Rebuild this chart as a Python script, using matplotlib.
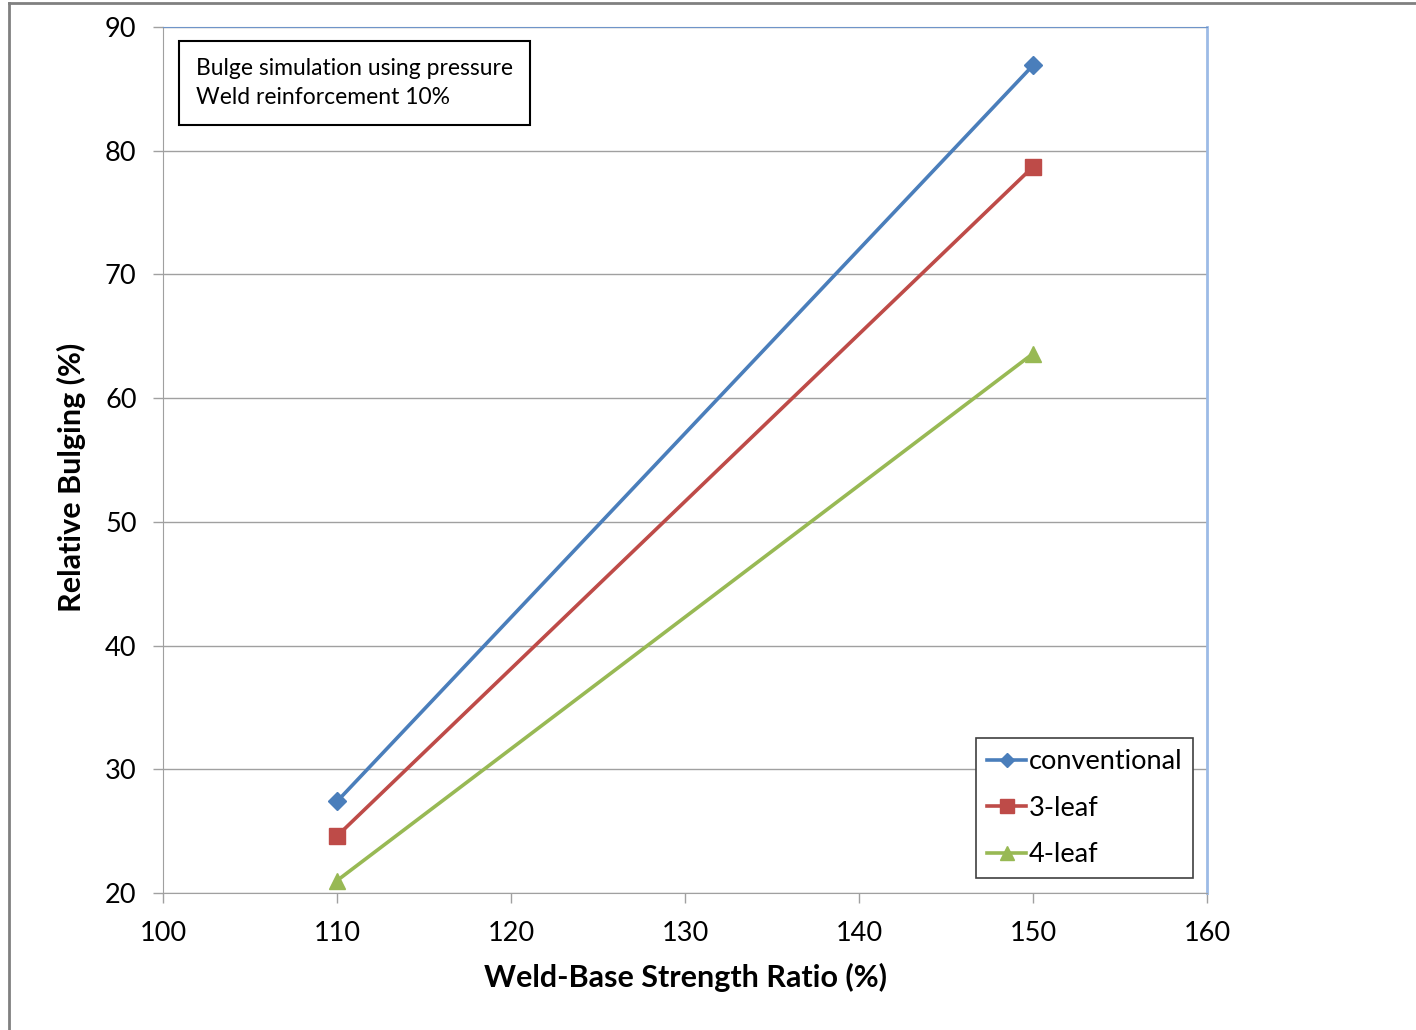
import matplotlib
matplotlib.use("Agg")
import matplotlib.pyplot as plt
from matplotlib.lines import Line2D

plt.rcParams['font.family'] = ['Lato', 'DejaVu Sans']

x_values = [110, 150]
series_names = ["conventional", "3-leaf", "4-leaf"]
conventional = [27.4, 86.9]
three_leaf = [24.6, 78.7]
four_leaf = [21.0, 63.6]
x_ticks = [100, 110, 120, 130, 140, 150, 160]
y_ticks = [20, 30, 40, 50, 60, 70, 80, 90]

W, H = 1416, 1030
fig = plt.figure(figsize=(W / 100, H / 100), dpi=100)
ax = fig.add_axes([163 / W, 1 - 893 / H, (1207 - 163) / W, (893 - 27) / H])

colors = ["#4a7ebb", "#be4b48", "#98b954"]
markers = ["D", "s", "^"]
msizes = [9, 12, 12]
for name, vals, c, m, ms in zip(series_names, [conventional, three_leaf, four_leaf], colors, markers, msizes):
    ax.plot(x_values, vals, color=c, lw=2.6, marker=m, markersize=ms,
            markeredgecolor=c, label=name, zorder=3)

ax.set_xlim(100, 160)
ax.set_ylim(20, 90)
ax.set_xticks(x_ticks)
ax.set_yticks(y_ticks)
ax.grid(axis='y', color='#a0a0a0', lw=1)
ax.set_axisbelow(True)
ax.tick_params(axis='both', labelsize=19.5, length=7, width=1, color='#a0a0a0')
ax.tick_params(axis='x', pad=13)
ax.tick_params(axis='y', pad=12)
for s in ['left', 'bottom']:
    ax.spines[s].set_color('#a0a0a0')
ax.spines['top'].set_color('#6f94c8')
ax.spines['right'].set_color('#9dbbe6')
ax.spines['right'].set_linewidth(2)

ax.set_xlabel("Weld-Base Strength Ratio (%)", fontsize=22, fontweight='bold', labelpad=12)
ax.set_ylabel("Relative Bulging (%)", fontsize=22, fontweight='bold', labelpad=14, y=0.48)

ax.text(0.0315, 0.964, "Bulge simulation using pressure\nWeld reinforcement 10%",
        transform=ax.transAxes, fontsize=16.5, va='top', ha='left', linespacing=1.45,
        bbox=dict(boxstyle='square,pad=0.75', fc='white', ec='black', lw=1.5))

leg = ax.legend(loc='lower right', bbox_to_anchor=(0.987, 0.017), fontsize=19.5,
                frameon=True, fancybox=False, edgecolor='#404040', framealpha=1,
                handlelength=1.45, handletextpad=0.1, labelspacing=0.8,
                borderpad=0.4, borderaxespad=0, markerscale=0.8)
leg.get_frame().set_linewidth(1.2)

# outer frame
fig.add_artist(Line2D([9 / W, 9 / W], [0, 1 - 3 / H], transform=fig.transFigure, color='#808080', lw=2))
fig.add_artist(Line2D([9 / W, 1], [1 - 3 / H, 1 - 3 / H], transform=fig.transFigure, color='#808080', lw=2))

fig.savefig("out.png", dpi=100)
